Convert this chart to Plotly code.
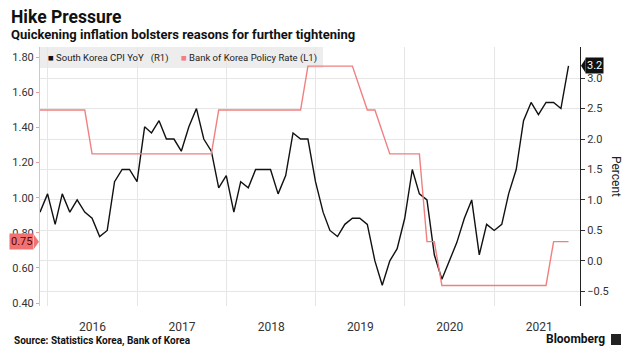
import pandas as pd
import plotly.graph_objects as go

# ---- data (monthly, end of month, Nov 2015 .. Oct 2021) ----
start_month = "2015-11-30"
end_month = "2021-10-31"
try:
    months = pd.date_range(start_month, end_month, freq="ME")
except Exception:
    months = pd.date_range(start_month, end_month, freq="M")

cpi_yoy = [
    0.8, 1.1,
    0.6, 1.1, 0.8, 1.0, 0.8, 0.7, 0.4, 0.5, 1.3, 1.5, 1.5, 1.3,
    2.2, 2.1, 2.3, 2.0, 2.0, 1.8, 2.2, 2.5, 2.0, 1.8, 1.2, 1.4,
    0.8, 1.3, 1.2, 1.5, 1.5, 1.5, 1.1, 1.4, 2.1, 2.0, 2.0, 1.3,
    0.8, 0.5, 0.4, 0.6, 0.7, 0.7, 0.6, 0.0, -0.4, 0.0, 0.2, 0.7,
    1.5, 1.1, 1.0, 0.1, -0.3, 0.0, 0.3, 0.7, 1.0, 0.1, 0.6, 0.5,
    0.6, 1.1, 1.5, 2.3, 2.6, 2.4, 2.6, 2.6, 2.5, 3.2,
]

policy_rate = [
    1.50, 1.50,
    1.50, 1.50, 1.50, 1.50, 1.50, 1.25, 1.25, 1.25, 1.25, 1.25, 1.25, 1.25,
    1.25, 1.25, 1.25, 1.25, 1.25, 1.25, 1.25, 1.25, 1.25, 1.25, 1.50, 1.50,
    1.50, 1.50, 1.50, 1.50, 1.50, 1.50, 1.50, 1.50, 1.50, 1.50, 1.75, 1.75,
    1.75, 1.75, 1.75, 1.75, 1.75, None, 1.50, 1.50, None, 1.25, 1.25, 1.25,
    1.25, 1.25, 0.75, 0.75, 0.50, 0.50, 0.50, 0.50, 0.50, 0.50, 0.50, 0.50,
    0.50, 0.50, 0.50, 0.50, 0.50, 0.50, 0.50, 0.75, 0.75, 0.75,
]

right_ticks = [-0.5, 0.0, 0.5, 1.0, 1.5, 2.0, 2.5, 3.0]
left_ticks = [0.4, 0.6, 0.8, 1.0, 1.2, 1.4, 1.6, 1.8]

title = "Hike Pressure"
subtitle = "Quickening inflation bolsters reasons for further tightening"
source = "Source: Statistics Korea, Bank of Korea"
cpi_name = "South Korea CPI YoY"
rate_name = "Bank of Korea Policy Rate"

CPI_COLOR = "#111111"
RATE_COLOR = "#f08080"
FONT = "Roboto"

# ---- geometry helpers (pixel -> paper) ----
L, R, T, B = 40, 580, 47, 306
W, H = 632, 360


def px(x):
    return (x - L) / (R - L)


def py(y):
    return (B - y) / (B - T)


fig = go.Figure()
fig.add_trace(go.Scatter(
    x=months, y=cpi_yoy, mode="lines", name=cpi_name, yaxis="y",
    line=dict(color=CPI_COLOR, width=1.4), showlegend=False,
))
fig.add_trace(go.Scatter(
    x=months, y=policy_rate, mode="lines", name=rate_name, yaxis="y2",
    connectgaps=True, line=dict(color=RATE_COLOR, width=1.4), showlegend=False,
))

annotations = [
    dict(text="<b>" + title + "</b>", x=px(9), y=py(17), xref="paper", yref="paper",
         xanchor="left", yanchor="middle", showarrow=False,
         font=dict(family=FONT, size=17.5, color="#111")),
    dict(text="<b>" + subtitle + "</b>", x=px(9), y=py(34), xref="paper", yref="paper",
         xanchor="left", yanchor="middle", showarrow=False,
         font=dict(family=FONT, size=13, color="#111")),
    dict(text="<b>" + source + "</b>", x=px(12), y=py(341), xref="paper", yref="paper",
         xanchor="left", yanchor="middle", showarrow=False,
         font=dict(family=FONT, size=10, color="#111")),
    dict(text="<b>Bloomberg</b>", x=px(607), y=py(339), xref="paper", yref="paper",
         xanchor="right", yanchor="middle", showarrow=False,
         font=dict(family=FONT, size=12, color="#111")),
    dict(text="Percent", x=px(616), y=py(176), xref="paper", yref="paper",
         xanchor="center", yanchor="middle", textangle=90, showarrow=False,
         font=dict(family=FONT, size=12, color="#222")),
    dict(text="<span style='color:%s'>■</span> %s&nbsp;&nbsp;&nbsp;(R1)" % (CPI_COLOR, cpi_name),
         x=px(46), y=py(57.5), xref="paper", yref="paper",
         xanchor="left", yanchor="middle", showarrow=False,
         font=dict(family=FONT, size=9.5, color="#222")),
    dict(text="<span style='color:%s'>■</span> %s (L1)" % (RATE_COLOR, rate_name),
         x=px(179), y=py(57.5), xref="paper", yref="paper",
         xanchor="left", yanchor="middle", showarrow=False,
         font=dict(family=FONT, size=9.5, color="#222")),
    dict(text="0.75", x=0, xshift=-6, y=policy_rate[-1], xref="paper", yref="y2",
         xanchor="right", yanchor="middle", showarrow=False, bgcolor="#f07272",
         borderpad=1, font=dict(family=FONT, size=11, color="#5a0505")),
    dict(text="3.2", x=1, xshift=5, y=cpi_yoy[-1], xref="paper", yref="y",
         xanchor="left", yanchor="middle", showarrow=False, bgcolor="#111",
         borderpad=1, font=dict(family=FONT, size=11, color="#fff")),
]

y075 = 110 + (1.5 - 0.75) * 175.5
y32 = 261 - 3.2 * 61


def tri(points):
    return "M " + " L ".join("%f,%f" % (px(a), py(b)) for a, b in points) + " Z"


shapes = [
    dict(type="rect", xref="paper", yref="paper", x0=px(40), x1=px(323), y0=py(68), y1=py(47),
         fillcolor="#ededed", line=dict(width=0), layer="between"),
    dict(type="rect", xref="paper", yref="paper", x0=px(611), x1=px(621), y0=py(345), y1=py(334),
         fillcolor="#222", line=dict(width=0)),
    dict(type="path", xref="paper", yref="paper",
         path=tri([(34, y075 - 7), (39, y075), (34, y075 + 7)]),
         fillcolor="#f07272", line=dict(width=0)),
    dict(type="path", xref="paper", yref="paper",
         path=tri([(585.5, y32 - 7), (581, y32), (585.5, y32 + 7)]),
         fillcolor="#111", line=dict(width=0)),
]

fig.update_layout(
    width=W, height=H,
    margin=dict(l=L, r=W - R, t=T, b=H - B),
    paper_bgcolor="white", plot_bgcolor="white",
    font=dict(family=FONT, color="#333"),
    xaxis=dict(
        type="date", range=["2015-11-30", "2021-12-17"],
        tick0="2016-01-01", dtick="M12", ticklabelmode="period", tickformat="%Y",
        showgrid=True, gridcolor="#e6e6e6", gridwidth=1,
        ticks="outside", ticklen=10, tickcolor="rgba(0,0,0,0)",
        showline=False, zeroline=False, tickfont=dict(size=12, color="#333"),
    ),
    yaxis=dict(
        side="right", range=[-0.74, 3.51], tickvals=right_ticks, tickformat=".1f",
        ticks="outside", ticklen=4, tickcolor="#333",
        showline=True, linecolor="#222", linewidth=1,
        showgrid=True, gridcolor="#e6e6e6", zeroline=False,
        tickfont=dict(size=11, color="#333"),
    ),
    yaxis2=dict(
        overlaying="y", side="left", range=[0.383, 1.859], tickvals=left_ticks,
        tickformat=".2f", ticks="outside", ticklen=3, tickcolor="#e9a0a0",
        showline=True, linecolor="#f3b8b8", linewidth=1,
        showgrid=False, zeroline=False, tickfont=dict(size=11, color="#333"),
    ),
    annotations=annotations,
    shapes=shapes,
)

fig.write_html(
    "out.html",
    config={"displayModeBar": False},
    post_script="document.body.style.margin='0';document.body.style.overflow='hidden';",
)
